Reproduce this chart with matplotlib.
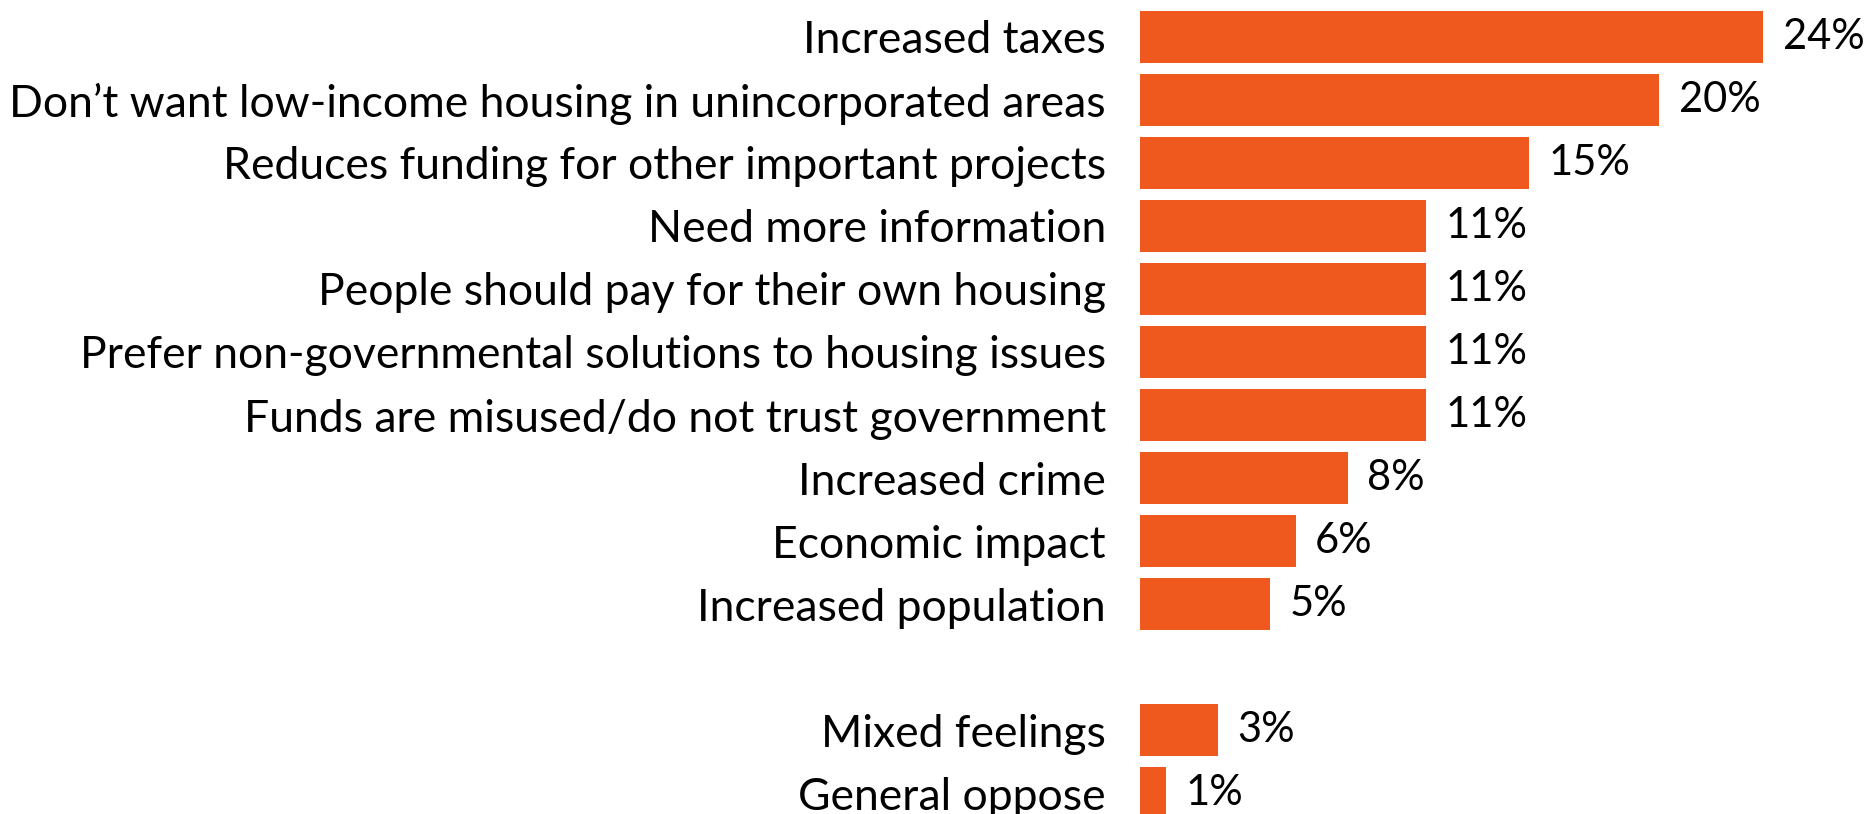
import matplotlib.pyplot as plt

# ==============================
# DATA
# ==============================
categories = [
    "Increased taxes",
    "Don\u2019t want low-income housing in unincorporated areas",
    "Reduces funding for other important projects",
    "Need more information",
    "People should pay for their own housing",
    "Prefer non-governmental solutions to housing issues",
    "Funds are misused/do not trust government",
    "Increased crime",
    "Economic impact",
    "Increased population",
    "Mixed feelings",
    "General oppose",
]
values = [24, 20, 15, 11, 11, 11, 11, 8, 6, 5, 3, 1]
# slot positions (empty slot between main reasons and the last two)
slots = [0, 1, 2, 3, 4, 5, 6, 7, 8, 9, 11, 12]

bar_color = "#F0591E"

plt.rcParams["font.family"] = ["Lato", "DejaVu Sans"]

fig = plt.figure(figsize=(18.68, 8.14), dpi=100)
ax = fig.add_axes([1140 / 1868, 0, 1 - 1140 / 1868, 1])

ax.barh(slots, values, height=0.825, color=bar_color)

ax.set_xlim(0, 28.04)
ax.set_ylim(12.333, -0.587)

ax.set_yticks(slots)
ax.set_yticklabels(categories, fontsize=32)
ax.tick_params(axis="y", length=0, pad=24.5)
ax.set_xticks([])

for s in ax.spines.values():
    s.set_visible(False)

for y, v in zip(slots, values):
    ax.annotate(f"{v}%", xy=(v, y), xytext=(14, 0), textcoords="offset points",
                ha="left", va="center", fontsize=30)

plt.savefig("out.png", dpi=100)
